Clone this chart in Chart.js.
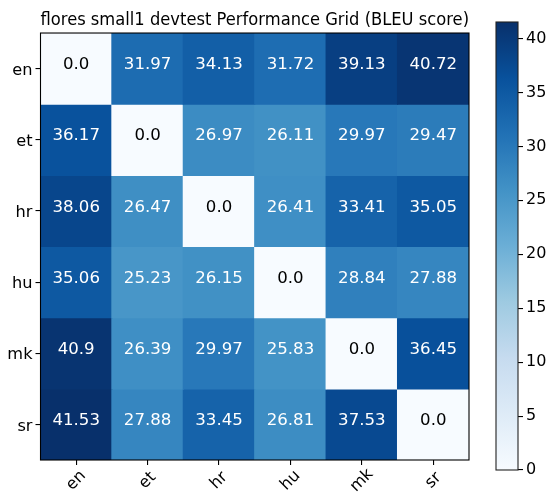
<!DOCTYPE html>
<html>
<head>
<meta charset="utf-8">
<script src="https://cdn.jsdelivr.net/npm/chart.js@4/dist/chart.umd.min.js"></script>
<style>
  html, body { margin: 0; padding: 0; background: #fff; }
  #wrap { position: relative; width: 551px; height: 493px; }
  #main { position: absolute; left: 0; top: 0; }
  #cbar { position: absolute; left: 480px; top: 0; }
</style>
</head>
<body>
<div id="wrap">
  <canvas id="main" width="551" height="493"></canvas>
  <canvas id="cbar" width="71" height="493"></canvas>
</div>
<script>
// ---- data ----
const titleText = 'flores small1 devtest Performance Grid (BLEU score)';
const xLabels = ['en', 'et', 'hr', 'hu', 'mk', 'sr'];
const yLabels = ['en', 'et', 'hr', 'hu', 'mk', 'sr'];
const rowEn = [0.0, 31.97, 34.13, 31.72, 39.13, 40.72];
const rowEt = [36.17, 0.0, 26.97, 26.11, 29.97, 29.47];
const rowHr = [38.06, 26.47, 0.0, 26.41, 33.41, 35.05];
const rowHu = [35.06, 25.23, 26.15, 0.0, 28.84, 27.88];
const rowMk = [40.9, 26.39, 29.97, 25.83, 0.0, 36.45];
const rowSr = [41.53, 27.88, 33.45, 26.81, 37.53, 0.0];
const colorbarTicks = [0, 5, 10, 15, 20, 25, 30, 35, 40];

const grid = [rowEn, rowEt, rowHr, rowHu, rowMk, rowSr];
const vmin = 0;
const vmax = Math.max(...grid.flat());

// matplotlib "Blues" colormap stops
const BLUES = [
  [0.96862745, 0.98431373, 1.0],
  [0.87058824, 0.92156863, 0.96862745],
  [0.77647059, 0.85882353, 0.9372549],
  [0.61960784, 0.79215686, 0.88235294],
  [0.41960784, 0.68235294, 0.83921569],
  [0.25882353, 0.57254902, 0.77647059],
  [0.12941176, 0.44313725, 0.70980392],
  [0.03137255, 0.31764706, 0.61176471],
  [0.03137255, 0.18823529, 0.41960784]
];
function toCss(c) {
  return 'rgb(' + c.map(v => Math.round(v * 255)).join(',') + ')';
}
function blues(t) {
  t = Math.max(0, Math.min(1, t));
  const n = BLUES.length - 1;
  const p = t * n;
  const i = Math.min(n - 1, Math.floor(p));
  const f = p - i;
  const a = BLUES[i], b = BLUES[i + 1];
  return toCss([0, 1, 2].map(k => a[k] + (b[k] - a[k]) * f));
}
function colorFor(v) { return blues((v - vmin) / (vmax - vmin)); }
function fmt(v) { return Number.isInteger(v) ? v.toFixed(1) : String(v); }

const FONT = 'DejaVu Sans';

const datasets = grid.map((row, r) => ({
  label: yLabels[r],
  data: row.map(() => [r - 0.5, r + 0.5]),
  backgroundColor: row.map(colorFor),
  borderWidth: 0,
  inflateAmount: 0.6,
  barPercentage: 1.0,
  categoryPercentage: 1.0,
  grouped: false
}));

const cellText = {
  id: 'cellText',
  afterDatasetsDraw(chart) {
    const { ctx, scales: { x, y } } = chart;
    ctx.save();
    ctx.font = '16.6px "' + FONT + '"';
    ctx.textAlign = 'center';
    ctx.textBaseline = 'alphabetic';
    grid.forEach((row, r) => {
      row.forEach((v, c) => {
        ctx.fillStyle = v > vmax / 2 ? '#ffffff' : '#000000';
        ctx.fillText(fmt(v), x.getPixelForValue(c), y.getPixelForValue(r) + 0.7);
      });
    });
    ctx.restore();
  }
};

const frameAndXLabels = {
  id: 'frameAndXLabels',
  afterDraw(chart) {
    const { ctx, chartArea: a, scales: { x } } = chart;
    ctx.save();
    ctx.strokeStyle = '#000';
    ctx.lineWidth = 1.1;
    ctx.strokeRect(a.left, a.top, a.right - a.left, a.bottom - a.top);
    ctx.fillStyle = '#000';
    ctx.font = '16.2px "' + FONT + '"';
    ctx.textAlign = 'center';
    ctx.textBaseline = 'middle';
    xLabels.forEach((lab, i) => {
      const px = x.getPixelForValue(i);
      ctx.save();
      ctx.translate(px, a.bottom + 20.5);
      ctx.rotate(-Math.PI / 4);
      ctx.fillText(lab, 0, 0);
      ctx.restore();
    });
    ctx.restore();
  }
};

new Chart(document.getElementById('main'), {
  type: 'bar',
  data: { labels: xLabels, datasets },
  options: {
    responsive: false,
    animation: false,
    devicePixelRatio: 1,
    layout: { padding: { left: 0, right: 82, top: 0, bottom: 0 } },
    plugins: {
      legend: { display: false },
      tooltip: { enabled: false },
      title: {
        display: true,
        text: titleText,
        fullSize: false,
        color: '#000',
        font: { family: FONT, size: 17.6, weight: 'normal', lineHeight: 1.2 },
        padding: { top: 10, bottom: 1.9 }
      }
    },
    scales: {
      x: {
        type: 'category',
        offset: true,
        grid: { display: true, drawOnChartArea: false, offset: false, tickLength: 5, color: '#000', lineWidth: 1.1 },
        border: { display: false },
        ticks: { display: false },
        afterFit(s) { s.height = 33; }
      },
      y: {
        type: 'linear',
        reverse: true,
        min: -0.5,
        max: 5.5,
        afterBuildTicks(s) { s.ticks = yLabels.map((_, i) => ({ value: i })); },
        grid: { display: true, drawOnChartArea: false, tickLength: 5, color: '#000', lineWidth: 1.1 },
        border: { display: false },
        ticks: {
          color: '#000',
          padding: 3,
          labelOffset: 2,
          font: { family: FONT, size: 16.2 },
          callback: (v) => yLabels[v]
        },
        afterFit(s) { s.width = 40.5; }
      }
    }
  },
  plugins: [cellText, frameAndXLabels]
});

// ---- colorbar ----
const cbOutline = {
  id: 'cbOutline',
  afterDraw(chart) {
    const { ctx, chartArea: a } = chart;
    ctx.save();
    ctx.strokeStyle = '#222';
    ctx.lineWidth = 1.1;
    ctx.strokeRect(a.left, a.top, a.right - a.left, a.bottom - a.top);
    ctx.restore();
  }
};

new Chart(document.getElementById('cbar'), {
  type: 'bar',
  data: {
    labels: [''],
    datasets: [{
      data: [[vmin, vmax]],
      barPercentage: 1.0,
      categoryPercentage: 1.0,
      borderWidth: 0,
      backgroundColor(ctx) {
        const chart = ctx.chart;
        if (!chart.chartArea) return toCss(BLUES[0]);
        const y = chart.scales.y;
        const g = chart.ctx.createLinearGradient(0, y.getPixelForValue(vmin), 0, y.getPixelForValue(vmax));
        BLUES.forEach((c, i) => g.addColorStop(i / (BLUES.length - 1), toCss(c)));
        return g;
      }
    }]
  },
  options: {
    responsive: false,
    animation: false,
    devicePixelRatio: 1,
    layout: { padding: { left: 16, right: 0, top: 22, bottom: 23 } },
    plugins: { legend: { display: false }, tooltip: { enabled: false }, title: { display: false } },
    scales: {
      x: { display: false, offset: true },
      y: {
        type: 'linear',
        position: 'right',
        min: vmin,
        max: vmax,
        afterBuildTicks(s) { s.ticks = colorbarTicks.map(v => ({ value: v })); },
        grid: { display: true, drawOnChartArea: false, tickLength: 5, color: '#000', lineWidth: 1.1 },
        border: { display: false },
        ticks: { color: '#000', padding: 3, font: { family: FONT, size: 16 }, callback: (v) => String(v) },
        afterFit(s) { s.width = 33; }
      }
    }
  },
  plugins: [cbOutline]
});
</script>
</body>
</html>
